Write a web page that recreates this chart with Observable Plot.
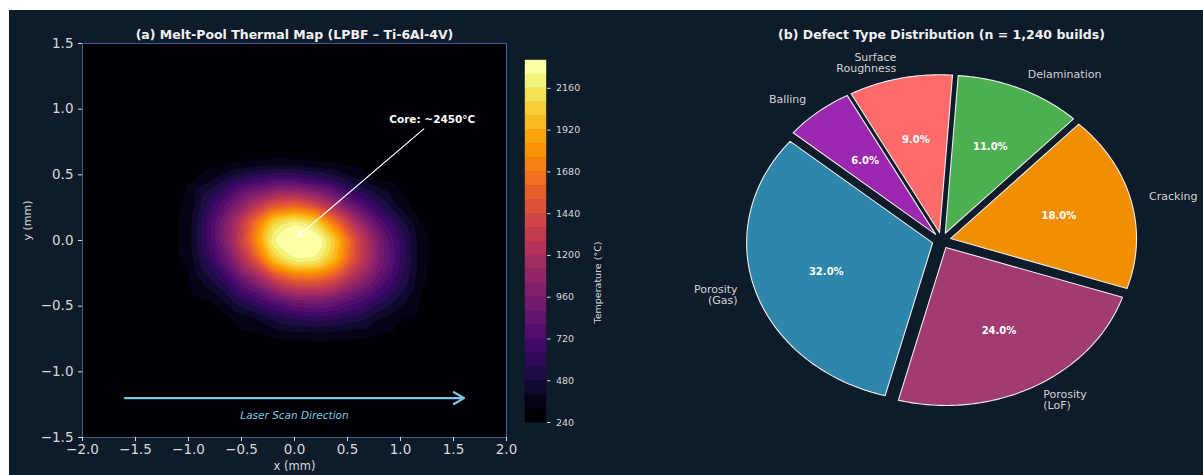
<!DOCTYPE html>
<html><head><meta charset="utf-8">
<script src="https://cdn.jsdelivr.net/npm/d3@7"></script>
<script src="https://cdn.jsdelivr.net/npm/@observablehq/plot@0.6"></script>
<style>
html,body{margin:0;padding:0;background:#fff;}
#fig{position:relative;width:1203px;height:475px;overflow:hidden;}
#bg{position:absolute;left:9px;top:10px;right:0;bottom:0;background:#0d1b2a;}
#fig svg{position:absolute;left:0;top:0;}
</style></head><body><div id="fig"><div id="bg"></div></div>
<script>
// ---------- Panel (a): melt-pool temperature samples (°C) ----------
const gridX = [-2.0,-1.8,-1.6,-1.4,-1.2,-1.0,-0.8,-0.6,-0.4,-0.2,0.0,0.2,0.4,0.6,0.8,1.0,1.2,1.4,1.6,1.8,2.0];
const gridY = [1.5,1.35,1.2,1.05,0.9,0.75,0.6,0.45,0.3,0.15,0,-0.15,-0.3,-0.45,-0.6,-0.75,-0.9,-1.05,-1.2,-1.35,-1.5];
const tempRows = [
  [290,290,290,290,290,290,290,290,290,290,290,290,290,290,290,290,290,290,290,290,290],
  [290,290,290,290,290,290,290,290,290,290,290,290,290,290,290,290,290,290,290,290,290],
  [290,290,290,290,290,290,290,290,290,290,290,290,290,290,290,290,290,290,290,290,290],
  [290,290,290,290,290,290,290,290,290,290,290,290,290,290,290,290,290,290,290,290,290],
  [290,290,290,290,290,290,290,290,290,290,290,290,290,290,290,290,290,290,290,290,290],
  [290,290,290,290,290,290,290,290,290,290,290,290,290,290,290,290,290,290,290,290,290],
  [290,290,290,290,290,290,291,298,312,322,320,308,296,291,290,290,290,290,290,290,290],
  [290,290,290,290,291,305,395,556,679,757,752,671,557,414,313,293,290,290,290,290,290],
  [290,290,290,290,293,330,584,836,1126,1360,1420,1260,990,722,521,333,294,290,290,290,290],
  [290,290,290,290,292,350,698,1084,1562,2060,2200,2050,1600,1118,753,510,305,290,290,290,290],
  [290,290,290,290,292,350,695,1112,1664,2250,2436,2380,2000,1412,947,618,335,290,290,290,290],
  [290,290,290,290,292,330,599,938,1411,2000,2240,2220,1900,1385,957,637,335,291,290,290,290],
  [290,290,290,290,291,305,461,685,996,1332,1557,1574,1401,1110,807,568,325,290,290,290,290],
  [290,290,290,290,290,292,314,470,634,815,950,983,910,764,599,438,298,290,290,290,290],
  [290,290,290,290,290,290,292,304,362,494,556,579,558,502,383,313,294,290,290,290,290],
  [290,290,290,290,290,290,290,291,295,303,310,316,313,306,298,291,290,290,290,290,290],
  [290,290,290,290,290,290,290,290,290,290,290,290,290,290,290,290,290,290,290,290,290],
  [290,290,290,290,290,290,290,290,290,290,290,290,290,290,290,290,290,290,290,290,290],
  [290,290,290,290,290,290,290,290,290,290,290,290,290,290,290,290,290,290,290,290,290],
  [290,290,290,290,290,290,290,290,290,290,290,290,290,290,290,290,290,290,290,290,290],
  [290,290,290,290,290,290,290,290,290,290,290,290,290,290,290,290,290,290,290,290,290]
];
const tempLevels = [240,320,400,480,560,640,720,800,880,960,1040,1120,1200,1280,1360,1440,1520,1600,1680,1760,1840,1920,2000,2080,2160,2240];
const tempTop = 2320;
const cbarTicks = [240,480,720,960,1200,1440,1680,1920,2160];
const xTicks = [-2.0,-1.5,-1.0,-0.5,0.0,0.5,1.0,1.5,2.0];
const yTicks = [-1.5,-1.0,-0.5,0.0,0.5,1.0,1.5];
const coreNote = [{text: "Core: ~2450°C", x: 1.3, y: 0.92, fromX: 1.22, fromY: 0.85, toX: 0.03, toY: 0.03}];
const scanNote = [{text: "Laser Scan Direction", x1: -1.6, x2: 1.6, y: -1.2, tx: 0, ty: -1.33}];

// ---------- Panel (b): defect distribution ----------
const defectNames = ["Porosity\n(Gas)", "Porosity\n(LoF)", "Cracking", "Delamination", "Surface\nRoughness", "Balling"];
const defectShares = [32, 24, 18, 11, 9, 6];
const defectColors = ["#2E86AB", "#A23B72", "#F18F01", "#4CAF50", "#FF6B6B", "#9C27B0"];
const pieStartAngle = 140;
const pieExplode = 0.05;

// ---------- build tables ----------
const field = [];
gridY.forEach((y, i) => gridX.forEach((x, j) => field.push({x, y, value: tempRows[i][j]})));
const bands = tempLevels.map((lo, i) => ({lo, hi: i + 1 < tempLevels.length ? tempLevels[i + 1] : tempTop}));

const total = d3.sum(defectShares);
const slices = [];
let ang = pieStartAngle;
defectShares.forEach((v, i) => {
  const span = v / total * 360;
  const s = ang, e = ang + span, mid = (s + e) / 2;
  const rad = Math.PI / 180;
  const ox = pieExplode * Math.cos(mid * rad), oy = pieExplode * Math.sin(mid * rad);
  slices.push({name: defectNames[i], value: v, color: defectColors[i], s, e, mid, ox, oy,
    lx: ox + 1.1 * Math.cos(mid * rad), ly: oy + 1.1 * Math.sin(mid * rad),
    px: ox + 0.6 * Math.cos(mid * rad), py: oy + 0.6 * Math.sin(mid * rad)});
  ang = e;
});
const piePts = [];
slices.forEach(sl => {
  const rad = Math.PI / 180;
  piePts.push({name: sl.name, color: sl.color, x: sl.ox, y: sl.oy});
  const n = Math.ceil(sl.e - sl.s) + 1;
  for (let k = 0; k <= n; k++) {
    const t = (sl.s + (sl.e - sl.s) * k / n) * rad;
    piePts.push({name: sl.name, color: sl.color, x: sl.ox + Math.cos(t), y: sl.oy + Math.sin(t)});
  }
});

const W = 1203, H = 475;
const font = "DejaVu Sans";
const baseStyle = {background: "transparent", color: "#d9d9d9", fontFamily: font, overflow: "visible"};
const colorOpt = {type: "linear", scheme: "inferno", domain: [tempLevels[0], tempLevels[tempLevels.length - 1]]};
const fmt1 = d3.format(".1f");

const heat = Plot.plot({
  width: W, height: H,
  marginLeft: 82, marginRight: W - 506, marginTop: 43, marginBottom: H - 437,
  style: baseStyle,
  x: {domain: [-2, 2]},
  y: {domain: [-1.5, 1.5]},
  color: colorOpt,
  marks: [
    Plot.contour(field, {x: "x", y: "y", fill: "value", thresholds: tempLevels, interpolate: "barycentric", blur: 3, pixelSize: 1, stroke: "none"}),
    Plot.frame({stroke: "#3f5f8c", strokeWidth: 1}),
    Plot.axisX({ticks: xTicks, tickFormat: fmt1, tickSize: 4, tickPadding: 3, fontSize: 13.5, label: null}),
    Plot.axisY({ticks: yTicks, tickFormat: fmt1, tickSize: 4, tickPadding: 5, fontSize: 13.5, label: null}),
    Plot.text(["x (mm)"], {frameAnchor: "bottom", dy: 32, fontSize: 11.5, fill: "#d9d9d9"}),
    Plot.text(["y (mm)"], {frameAnchor: "left", dx: -55, rotate: -90, fontSize: 11, fill: "#d9d9d9"}),
    Plot.text(["(a) Melt-Pool Thermal Map (LPBF – Ti-6Al-4V)"], {frameAnchor: "top", dy: -13, fontSize: 12.5, fontWeight: "bold", fill: "#f2f2f2"}),
    Plot.arrow(coreNote, {x1: "fromX", y1: "fromY", x2: "toX", y2: "toY", stroke: "#ffffff", strokeWidth: 1.2, headLength: 7}),
    Plot.text(coreNote, {x: "x", y: "y", text: "text", fontSize: 10.5, fontWeight: "bold", fill: "#ffffff"}),
    Plot.arrow(scanNote, {x1: "x1", y1: "y", x2: "x2", y2: "y", stroke: "#7ec8e3", strokeWidth: 2.2, headLength: 8}),
    Plot.text(scanNote, {x: "tx", y: "ty", text: "text", fontSize: 10.5, fontStyle: "italic", fill: "#7ec8e3"})
  ]
});

const cbar = Plot.plot({
  width: W, height: H,
  marginLeft: 525, marginRight: W - 546, marginTop: 60, marginBottom: H - 422,
  style: baseStyle,
  x: {domain: [0, 1], axis: null},
  y: {domain: [tempLevels[0], tempTop]},
  color: colorOpt,
  marks: [
    Plot.rect(bands, {x1: 0, x2: 1, y1: "lo", y2: "hi", fill: "lo", stroke: "lo", strokeWidth: 0.4}),
    Plot.axisY({anchor: "right", ticks: cbarTicks, tickSize: 3.5, tickPadding: 6, fontSize: 9.5, label: null, tickFormat: d => String(d)}),
    Plot.text(["Temperature (°C)"], {frameAnchor: "right", dx: 51, rotate: -90, fontSize: 9.5, fill: "#d9d9d9"})
  ]
});

const pie = Plot.plot({
  width: W, height: H,
  marginLeft: 755, marginRight: W - 1127, marginTop: 82, marginBottom: H - 398,
  style: baseStyle,
  x: {domain: [-1, 1], axis: null},
  y: {domain: [-1, 1], axis: null},
  marks: [
    Plot.line(piePts, {x: "x", y: "y", z: "name", fill: "color", stroke: "#eeeeee", strokeWidth: 1.1, curve: "linear-closed"}),
    Plot.text(slices, {x: "px", y: "py", text: d => d.value.toFixed(1) + "%", fontSize: 10, fontWeight: "bold", fill: "#ffffff"}),
    Plot.text(slices.filter(d => Math.cos(d.mid * Math.PI / 180) > 0), {x: "lx", y: "ly", text: "name", textAnchor: "start", fontSize: 11, lineHeight: 1.0, fill: "#d4d4d4"}),
    Plot.text(slices.filter(d => Math.cos(d.mid * Math.PI / 180) <= 0), {x: "lx", y: "ly", text: "name", textAnchor: "end", fontSize: 11, lineHeight: 1.0, fill: "#d4d4d4"}),
    Plot.text(["(b) Defect Type Distribution (n = 1,240 builds)"], {frameAnchor: "top", dy: -52, fontSize: 12.5, fontWeight: "bold", fill: "#f2f2f2"})
  ]
});

const fig = document.getElementById("fig");
fig.appendChild(heat);
fig.appendChild(cbar);
fig.appendChild(pie);
</script></body></html>
